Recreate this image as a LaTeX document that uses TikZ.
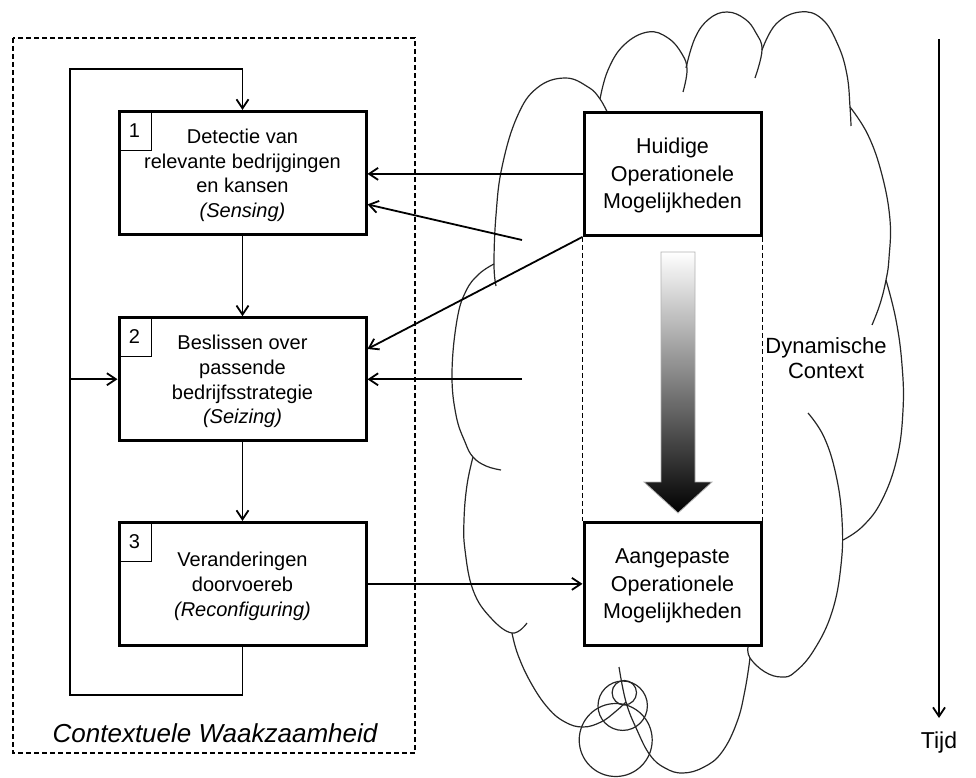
\documentclass[tikz,border=0pt]{standalone}
\usepackage{fontspec}
\setmainfont{Liberation Sans}
\usetikzlibrary{arrows.meta,calc}
\begin{document}
\begin{tikzpicture}[x=1pt,y=-1pt,
  stagebox/.style={draw,line width=3pt,fill=white,minimum width=247pt,minimum height=123pt,inner sep=0pt},
  stagetext/.style={align=center,inner sep=0pt,yshift=-2.5pt,font=\fontsize{20}{24.6}\selectfont},
  capbox/.style={draw,line width=3pt,fill=white,minimum width=177pt,minimum height=123pt,inner sep=0pt},
  captext/.style={align=center,inner sep=0pt,yshift=-2pt,font=\fontsize{21.5}{27.5}\selectfont},
  numbox/.style={draw,line width=1pt,minimum width=33pt,minimum height=40pt,inner sep=0pt,anchor=north west,font=\fontsize{20}{24}\selectfont},
  flow/.style={line width=1.8pt,-{Straight Barb[length=9pt,width=12pt]}},
  link/.style={line width=1.8pt},
  cloudline/.style={line width=1.2pt,black!85},
  guide/.style={line width=1.2pt,dash pattern=on 5pt off 3pt},
  vigilframe/.style={line width=1.2pt,dash pattern=on 5pt off 3pt},
]
\useasboundingbox (0,0) rectangle (976,778);

% dashed frame around the three stages
\draw[vigilframe] (13,38) rectangle (415,753);

% cloud outline: outer bumps with their inner stubs
\begin{scope}[cloudline]
\draw plot[smooth,tension=0.7] coordinates {(496,286) (494,264) (496,215) (502,167) (517,117) (537,88) (565,78) (588,87) (600,99) (609,116)};
\draw plot[smooth,tension=0.7] coordinates {(600,99) (608,70) (624,45) (648,32) (668,38) (682,54) (687,70) (683,92)};
\draw plot[smooth,tension=0.7] coordinates {(686,68) (695,38) (709,19) (727,12) (745,19) (756,33) (762,50) (755,78)};
\draw plot[smooth,tension=0.7] coordinates {(762,50) (776,24) (800,12) (822,19) (838,45) (847,75) (850,107) (851,126)};
\draw plot[smooth,tension=0.7] coordinates {(850,107) (868,135) (882,175) (890,220) (889,258) (886,280) (880,304) (872,325)};
\draw plot[smooth,tension=0.7] coordinates {(886,280) (896,320) (902,365) (903,410) (897,458) (882,500) (863,526) (843,540)};
\draw plot[smooth,tension=0.7] coordinates {(808,413) (824,437) (836,475) (842,520) (841,565) (832,612) (814,650) (795,672) (782,677) (765,672) (750,658) (748,647)};
\draw plot[smooth,tension=0.7] coordinates {(750,658) (745,690) (737,722) (722,752) (704,767) (683,773) (665,768) (650,755) (637,730) (626,702) (619,667)};
\draw plot[smooth,tension=0.7] coordinates {(512,633) (518,655) (531,683) (548,708) (565,722) (583,727) (601,722) (615,712) (626,702)};
\draw plot[smooth,tension=0.7] coordinates {(473,457) (467,485) (464,520) (465,550) (473,590) (490,617) (512,633) (527,623)};
\draw plot[smooth,tension=0.7] coordinates {(494,264) (479,274) (466,291) (457,320) (452,373) (456,415) (465,442) (473,457) (486,466) (501,470)};
% thought-bubble circles
\draw (615.7,740) circle[radius=36.5];
\draw (622.7,705.7) circle[radius=24.7];
\draw (624.3,692.7) circle[radius=12.2];
\end{scope}

% shaded transition arrow
\shade[top color=white,middle color=black!35,bottom color=black,draw=black!30,line width=0.8pt]
  (661,252) -- (695,252) -- (695,482) -- (712,482) -- (678,513) -- (644,482) -- (661,482) -- cycle;

% stages
\node[stagebox,label={[stagetext]center:{Detectie van\\relevante bedrijgingen\\en kansen\\\textit{(Sensing)}}}] (box1) at (242.5,172.9) {};
\node[stagebox,label={[stagetext]center:{Beslissen over\\passende\\bedrijfsstrategie\\\textit{(Seizing)}}}] (box2) at (242.5,379.2) {};
\node[stagebox,label={[stagetext]center:{Veranderingen\\doorvoereb\\\textit{(Reconfiguring)}}}] (box3) at (242.5,583.9) {};
\node[numbox] (n1) at (box1.north west) {1};
\node[numbox] (n2) at (box2.north west) {2};
\node[numbox] (n3) at (box3.north west) {3};

% operational capabilities
\node[capbox,label={[captext]center:{Huidige\\Operationele\\Mogelijkheden}}] (huidige) at (672.5,173.9) {};
\node[capbox,label={[captext]center:{Aangepaste\\Operationele\\Mogelijkheden}}] (aangepast) at (672.5,584.3) {};

\draw[guide] (huidige.south west) -- (aangepast.north west);
\draw[guide] (huidige.south east) -- (aangepast.north east);

% flow between stages and feedback loop
\coordinate (loopbl) at (70,695.3);
\coordinate (looptl) at (70,69.3);
\draw[flow] (box1.south) -- (box2.north);
\draw[flow] (box2.south) -- (box3.north);
\draw[flow] (box3.south) |- (loopbl) -- (looptl) -| (box1.north);
\draw[flow] (looptl |- box2.west) -- (box2.west);

% inputs from the context
\coordinate (src1) at (522,240);
\coordinate (src2) at (522,379.3);
\draw[flow] (huidige.west) -- (huidige.west -| box1.east);
\draw[flow] (src1) -- ($(box1.south east)!0.25!(box1.north east)$);
\draw[flow] (huidige.south west) -- ($(box2.south east)!0.74!(box2.north east)$);
\draw[flow] (src2) -- (src2 -| box2.east);
\draw[flow] (box3.east) -- (box3.east -| aangepast.west);

% labels
\node[anchor=base,inner sep=0pt,font=\fontsize{26}{30}\selectfont\itshape] (vigil) at (215,742.7) {Contextuele Waakzaamheid};
\node[align=center,inner sep=0pt,font=\fontsize{22}{25.7}\selectfont] (context) at (826,358.2) {Dynamische\\Context};

% time axis
\coordinate (ttop) at (939,39);
\coordinate (tbot) at (939,718);
\draw[flow] (ttop) -- (tbot);
\node[anchor=base,inner sep=0pt,font=\fontsize{23}{27}\selectfont] (tijd) at (939,748) {Tijd};
\end{tikzpicture}
\end{document}
